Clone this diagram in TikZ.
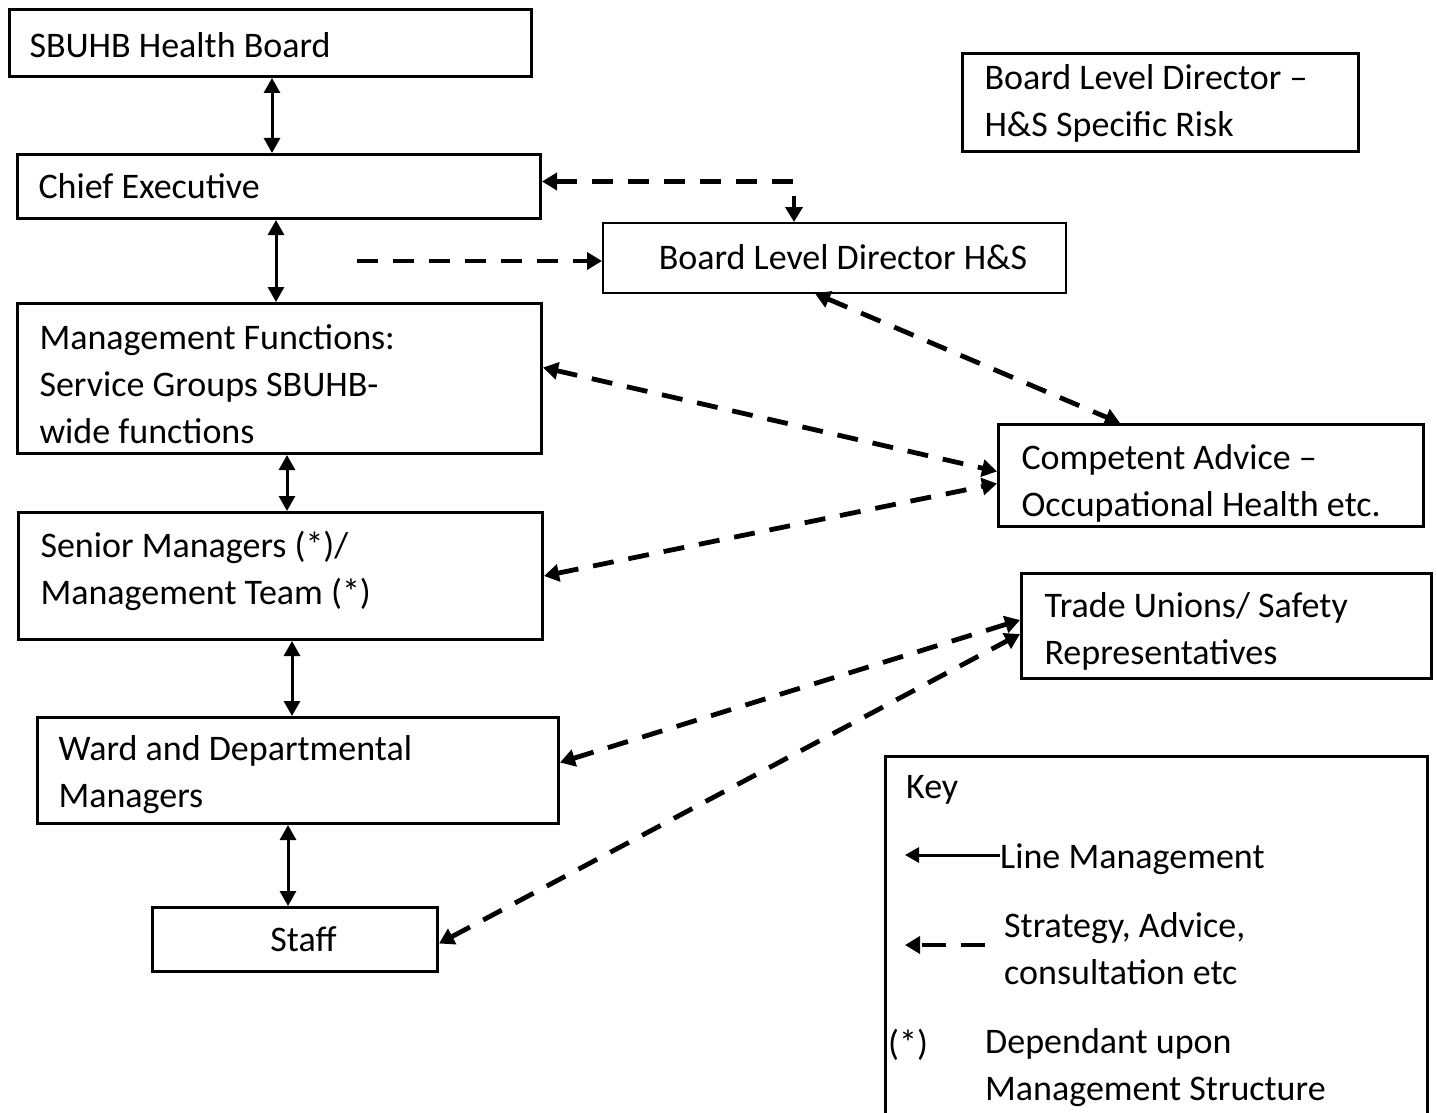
\documentclass[tikz,border=0pt]{standalone}
\usepackage{fontspec}
\setmainfont{Carlito}
\usetikzlibrary{arrows.meta,calc}
% #1 left indent, #2 extra height on first line, #3 extra depth on last line, #4 text
\newcommand\boxtext[4]{\leftskip=#1pt\relax\raisebox{0pt}[\dimexpr\height+#2pt\relax]{\vphantom{Ad}}#4\raisebox{0pt}[\height][\dimexpr\depth+#3pt\relax]{\vphantom{g}}\par}
\begin{document}
\begin{tikzpicture}[x=1pt,y=-1pt,
  font=\fontsize{36}{47}\selectfont,
  box/.style={draw, line width=3pt, anchor=north west, align=flush left, inner xsep=0pt, inner ysep=0pt},
  thinbox/.style={box, line width=1.5pt},
  lm/.style={line width=3pt, {Triangle[length=15pt,width=16pt]}-{Triangle[length=15pt,width=16pt]}},
  lmone/.style={line width=3pt, -{Triangle[length=14pt,width=15pt]}},
  da/.style={line width=4.8pt, dash pattern=on 21pt off 15pt, {Triangle[length=15pt,width=17pt]}-{Triangle[length=15pt,width=17pt]}},
  daone/.style={line width=4.8pt, dash pattern=on 21pt off 15pt, -{Triangle[length=15pt,width=17pt]}},
  dakey/.style={line width=4.8pt, dash pattern=on 24pt off 15pt, -{Triangle[length=15pt,width=17pt]}},
  txt/.style={anchor=west, inner sep=0pt, align=flush left}
]
\useasboundingbox (0,0) rectangle (1437,1113);

% main column
\node[box, text width=522pt, minimum height=67pt] (hb) at (8,8) {\boxtext{20}{10}{0}{SBUHB Health Board}};
\node[box, text width=523pt, minimum height=64pt] (ce) at (16,153) {\boxtext{21}{6}{0}{Chief Executive}};
\node[box, text width=524pt, minimum height=150pt] (mf) at (16,302) {\boxtext{22}{18}{0}{Management Functions:\\Service Groups SBUHB-\\wide functions}};
\node[box, text width=524pt, minimum height=127pt] (sm) at (17,511) {\boxtext{22}{0}{10}{Senior Managers (*)/\\Management Team (*)}};
\node[box, text width=521pt, minimum height=106pt] (wd) at (36,716) {\boxtext{21}{8}{0}{Ward and Departmental\\Managers}};
\node[box, text width=285pt, minimum height=64pt, align=flush center] (st) at (151,906) {\hspace*{17pt}Staff};

% right column
\node[box, text width=396pt, minimum height=98pt] (rd) at (961,52) {\boxtext{22}{3}{0}{Board Level Director --\\H\&S Specific Risk}};
\node[thinbox, text width=463pt, minimum height=70pt] (bld) at (602,222) {\boxtext{56}{4}{0}{Board Level Director H\&S}};
\node[box, text width=425pt, minimum height=102pt] (ca) at (997,423) {\boxtext{23}{16}{0}{Competent Advice --\\Occupational Health etc.}};
\node[box, text width=410pt, minimum height=105pt] (tu) at (1020,572) {\boxtext{23}{12}{0}{Trade Unions/ Safety\\Representatives}};

% key
\node[draw, line width=3pt, anchor=north west, minimum width=542pt, minimum height=380pt, inner sep=0pt] (key) at (884,755) {};
\node[txt] (kt) at (906,790) {Key};
\coordinate (k1a) at (1000,855);
\coordinate (k1b) at (905,855);
\draw[lmone] (k1a) -- (k1b);
\node[txt] (k1) at (1000,859) {Line Management};
\coordinate (k2a) at (985,945);
\coordinate (k2b) at (905,945);
\draw[dakey] (k2a) -- (k2b);
\node[txt] (k2) at (1004,949) {Strategy, Advice,\\consultation etc};
\node[txt] (k3s) at (888,1045) {(*)};
\node[txt] (k3) at (985,1068) {Dependant upon\\Management Structure};

% line management arrows
\draw[lm] ($(hb.south west)+(264,0)$) -- ($(ce.north west)+(256,0)$);
\draw[lm] ($(ce.south west)+(260,0)$) -- ($(mf.north west)+(260,0)$);
\draw[lm] ($(mf.south west)+(271,0)$) -- ($(sm.north west)+(270,0)$);
\draw[lm] ($(sm.south west)+(275,0)$) -- ($(wd.north west)+(256,0)$);
\draw[lm] ($(wd.south west)+(252,0)$) -- ($(st.north west)+(137,0)$);

% dashed connections
\draw[da] ($(ce.east)+(0,-5)$) -| ($(bld.north west)+(192,0)$);
\coordinate (fs) at (357,261);
\draw[daone] (fs) -- (fs -| bld.west);
\draw[da] ($(bld.south west)+(213,0)$) -- ($(ca.north west)+(123,0)$);
\draw[da] ($(mf.east)+(0,-11)$) -- ($(ca.west)+(0,-4)$);
\draw[da] ($(sm.east)+(0,0)$) -- ($(ca.west)+(0,8)$);
\draw[da] ($(wd.east)+(0,-8)$) -- ($(tu.west)+(0,-6)$);
\draw[da] ($(st.east)+(0,4)$) -- ($(tu.west)+(0,8)$);
\end{tikzpicture}
\end{document}
